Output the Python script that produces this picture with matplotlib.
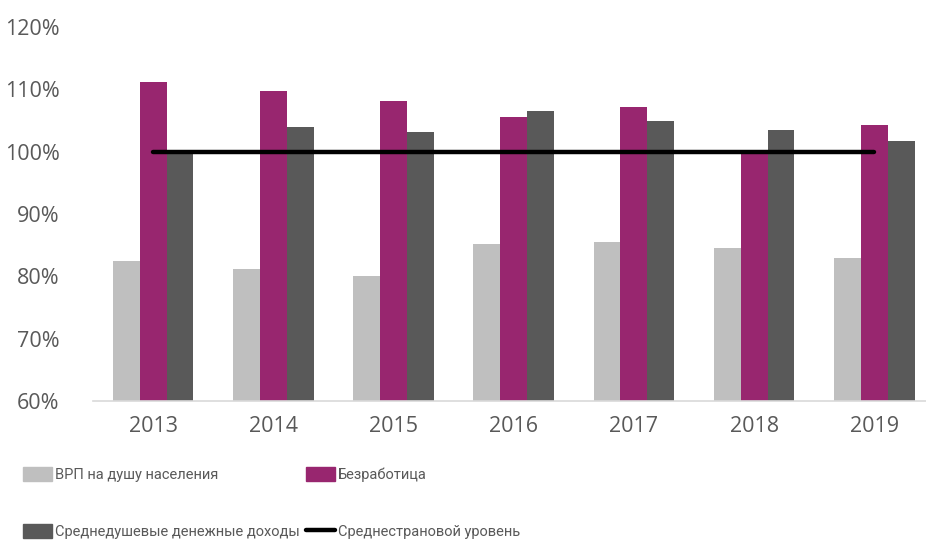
import numpy as np
import matplotlib
matplotlib.use('Agg')
import matplotlib.pyplot as plt
from matplotlib.patches import Patch
from matplotlib.lines import Line2D

plt.rcParams['font.family'] = ['Open Sans', 'DejaVu Sans']

# data
years = ['2013', '2014', '2015', '2016', '2017', '2018', '2019']
vrp = [82.4, 81.2, 80.0, 85.2, 85.5, 84.5, 83.0]
unemployment = [111.1, 109.8, 108.2, 105.6, 107.2, 100.0, 104.2]
income = [99.6, 103.9, 103.2, 106.5, 105.0, 103.4, 101.7]
country_avg = [100, 100, 100, 100, 100, 100, 100]

labels = ['ВРП на душу населения', 'Безработица',
          'Среднедушевые денежные доходы', 'Среднестрановой уровень']
colors = ['#BFBFBF', '#98266F', '#595959', '#000000']

fig = plt.figure(figsize=(9.26, 5.41), dpi=100)
ax = fig.add_axes([93 / 926, 1 - 401 / 541, (926 - 93) / 926, (401 - 27) / 541])

index = np.arange(len(years))
bar_width = 0.224

ax.bar(index - bar_width, vrp, bar_width, color=colors[0])
ax.bar(index, unemployment, bar_width, color=colors[1])
ax.bar(index + bar_width, income, bar_width, color=colors[2])
ax.plot(index, country_avg, color=colors[3], linewidth=3.2, solid_capstyle='round')

ax.set_ylim(60, 120)
ax.set_xlim(-0.5, 6.43)
ax.set_yticks(np.arange(60, 121, 10))
ax.set_yticklabels(['%d%%' % v for v in range(60, 121, 10)])
ax.set_xticks(index)
ax.set_xticklabels(years)
ax.tick_params(axis='both', length=0, labelsize=15.5, labelcolor='#595959')
ax.tick_params(axis='x', pad=11)
ax.tick_params(axis='y', pad=24)
for s in ['top', 'right', 'left']:
    ax.spines[s].set_visible(False)
ax.spines['bottom'].set_color('#D9D9D9')
ax.spines['bottom'].set_linewidth(1.2)

# legend: two rows, second column starting at fixed x
handles = [Patch(color=colors[0]), Patch(color=colors[2]),
           Patch(color=colors[1]), Line2D([], [], color='k', linewidth=3.2, solid_capstyle='round')]
leg_font = {'family': ['Roboto', 'DejaVu Sans'], 'size': 10.5}
leg_kw = dict(loc='upper left', frameon=False, prop=leg_font, labelcolor='#595959',
              handlelength=2.0, handleheight=1.05, handletextpad=0.2,
              labelspacing=2.9, borderpad=0, borderaxespad=0)
leg1 = fig.legend(handles[:2], [labels[0], labels[2]],
                  bbox_to_anchor=(23 / 926, 1 - 467 / 541), **leg_kw)
leg2 = fig.legend(handles[2:], [labels[1], labels[3]],
                  bbox_to_anchor=(306 / 926, 1 - 467 / 541), **leg_kw)

fig.savefig('out.png', dpi=100)
